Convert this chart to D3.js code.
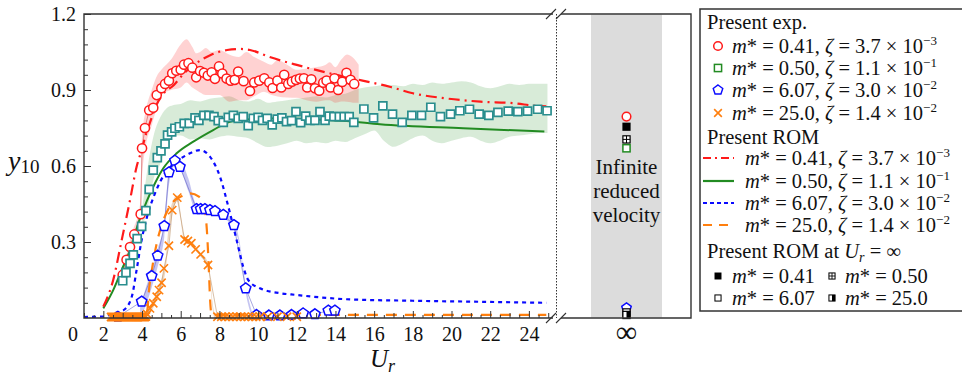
<!DOCTYPE html>
<html><head><meta charset="utf-8">
<script src="https://cdn.jsdelivr.net/npm/d3@7"></script>
<style>body{margin:0;background:#fff}svg{display:block}svg text{font-family:"Liberation Serif","Times New Roman",Times,serif}</style>
</head><body>
<svg id="chart" width="962" height="378"></svg>
<script>
// ---------------- DATA ----------------
const xTicks = [2,4,6,8,10,12,14,16,18,20,22,24];
const yTicks = [0.3,0.6,0.9,1.2];

// Experiment m*=0.41
const exp041U = [3.0,3.2,3.38,3.6,3.93,4.0,4.15,4.37,4.58,4.76,5.0,5.19,5.39,5.56,5.77,6.0,6.17,6.4,6.6,6.8,7.0,7.2,7.4,7.6,7.77,7.98,8.15,8.37,8.58,8.79,8.97,9.25,9.58,9.8,10.06,10.32,10.58,10.75,11.0,11.2,11.35,11.56,11.75,11.96,12.16,12.37,12.54,12.75,12.94,13.16,13.37,13.54,13.75,13.95,14.14,14.35,14.57,14.78,14.97];
const exp041Y = [0.17,0.23,0.28,0.33,0.41,0.67,0.75,0.82,0.83,0.88,0.907,0.924,0.937,0.966,0.976,0.98,1.0,1.006,0.988,0.95,0.975,0.968,0.957,0.97,0.944,0.993,0.965,0.945,0.937,0.94,0.973,0.935,0.896,0.93,0.937,0.946,0.93,0.908,0.937,0.91,0.96,0.924,0.933,0.94,0.945,0.946,0.91,0.942,0.907,0.897,0.929,0.937,0.91,0.946,0.9,0.932,0.968,0.94,0.924];
const band041U  = [3.0,3.5,3.9,4.0,4.2,4.5,4.8,5.0,5.5,6.0,6.3,6.6,6.8,7.0,7.3,7.6,8.0,8.5,9.0,9.4,9.8,10.3,10.7,11.0,11.5,12.0,12.5,13.0,13.5,13.7,14.0,14.3,14.6,15.0,15.2];
const band041Hi = [0.19,0.34,0.45,0.72,0.82,0.9,0.96,0.98,1.02,1.08,1.1,1.07,1.045,1.05,1.066,1.05,1.058,1.04,1.03,1.05,1.03,1.012,1.0,1.018,1.0,0.98,0.985,0.99,1.0,1.01,0.99,1.02,1.04,1.02,1.0];
const band041Lo = [0.15,0.27,0.37,0.55,0.68,0.76,0.84,0.88,0.9,0.91,0.93,0.91,0.9,0.89,0.88,0.88,0.88,0.854,0.86,0.86,0.875,0.893,0.88,0.874,0.87,0.869,0.86,0.854,0.86,0.86,0.85,0.855,0.854,0.85,0.85];

// Experiment m*=0.50
const exp050U = [3.0,3.17,3.38,3.55,3.75,3.98,4.2,4.37,4.58,4.79,4.98,5.19,5.32,5.53,5.7,5.93,6.18,6.44,6.74,6.94,7.2,7.46,7.72,7.94,8.2,8.46,8.72,8.97,9.23,9.49,9.75,10.0,10.23,10.47,10.73,10.99,11.23,11.47,11.73,11.96,12.2,12.46,12.68,12.94,13.2,13.46,13.68,13.92,14.2,14.45,14.71,14.95,15.47,15.97,16.45,16.95,17.45,17.95,18.45,18.93,19.43,19.95,20.43,20.93,21.43,21.93,22.4,22.93,23.43,23.93,24.45,24.94];
const exp050Y = [0.147,0.179,0.216,0.249,0.313,0.362,0.424,0.508,0.584,0.633,0.66,0.687,0.722,0.735,0.749,0.755,0.768,0.768,0.79,0.78,0.8,0.8,0.795,0.779,0.772,0.792,0.8,0.788,0.795,0.759,0.788,0.792,0.78,0.788,0.762,0.785,0.79,0.775,0.779,0.815,0.771,0.797,0.78,0.78,0.815,0.78,0.797,0.795,0.795,0.795,0.795,0.772,0.825,0.79,0.837,0.805,0.772,0.8,0.8,0.832,0.795,0.805,0.818,0.824,0.805,0.8,0.812,0.817,0.815,0.817,0.824,0.818];
const band050U  = [4.0,4.3,4.6,5.0,5.3,5.6,6.0,6.5,7.0,7.5,8.0,8.5,9.0,9.5,10,10.5,11,11.5,12,12.5,13,13.5,14,14.5,15,15.5,16,16.5,17,17.5,18,18.5,19,19.5,20,20.5,21,21.5,22,22.5,23,23.5,24,24.5,24.96];
const band050Hi = [0.42,0.6,0.72,0.8,0.83,0.84,0.845,0.86,0.855,0.865,0.87,0.875,0.86,0.855,0.865,0.85,0.855,0.86,0.865,0.87,0.875,0.87,0.88,0.885,0.9,0.91,0.915,0.92,0.92,0.915,0.925,0.92,0.93,0.925,0.93,0.935,0.93,0.915,0.907,0.915,0.925,0.92,0.925,0.925,0.925];
const band050Lo = [0.35,0.44,0.55,0.62,0.7,0.72,0.72,0.705,0.71,0.705,0.715,0.72,0.715,0.71,0.69,0.675,0.68,0.69,0.7,0.69,0.695,0.69,0.7,0.695,0.71,0.725,0.74,0.7,0.676,0.69,0.71,0.72,0.7,0.69,0.7,0.71,0.715,0.7,0.69,0.7,0.715,0.72,0.725,0.73,0.73];

// Experiment m*=6.07
const exp607U = [2.75,3.98,4.5,4.81,5.15,5.39,5.7,5.96,6.82,7.03,7.25,7.51,7.77,8.2,8.75,9.36,9.92,10.56,11.13,11.73,12.33,12.94,13.63,13.97];
const exp607Y = [0.005,0.065,0.166,0.246,0.363,0.575,0.621,0.597,0.43,0.43,0.43,0.426,0.422,0.407,0.367,0.117,0.012,0.01,0.01,0.012,0.018,0.015,0.029,0.029];
const band607U  = [3.9,4.2,4.5,4.8,5.15,5.4,5.7,6.0,6.4,6.8,7.5,8.2,8.75,9.0,9.36,9.7];
const band607Lo = [0.0,0.05,0.12,0.2,0.32,0.53,0.6,0.58,0.5,0.42,0.415,0.395,0.35,0.3,0.1,0.0];
const band607Hi = [0.04,0.12,0.19,0.27,0.38,0.59,0.63,0.62,0.55,0.45,0.43,0.415,0.38,0.32,0.13,0.02];

// Experiment m*=25.0
const exp250U = [2.4,2.45,2.5,2.55,2.6,2.65,2.7,2.75,2.8,2.85,2.9,2.95,3.0,3.05,3.1,3.15,3.2,3.25,3.3,3.35,3.4,3.45,3.5,3.55,3.6,3.65,3.7,3.75,3.8,3.85,3.9,3.95,4.0,4.05,4.1,4.15,4.2,4.27,4.41,4.58,4.76,4.88,5.01,5.13,5.39,5.56,5.82,6.2,6.37,6.55,6.77,7.03,7.41,7.9,8.1,8.3,8.5,8.7,8.9,9.1,9.3,9.5,9.7,9.9,10.1,10.5,11.0,11.5,12.0];
const exp250Y = [0.004,0.004,0.004,0.004,0.004,0.004,0.004,0.004,0.004,0.004,0.004,0.004,0.004,0.004,0.004,0.004,0.004,0.004,0.004,0.004,0.004,0.004,0.004,0.004,0.004,0.004,0.004,0.004,0.004,0.004,0.004,0.004,0.004,0.004,0.004,0.004,0.006,0.015,0.038,0.058,0.084,0.11,0.139,0.196,0.285,0.426,0.475,0.31,0.304,0.295,0.271,0.251,0.209,0.005,0.005,0.005,0.005,0.005,0.005,0.005,0.005,0.005,0.005,0.005,0.005,0.005,0.005,0.005,0.005];
const band250U  = [4.2,4.5,4.9,5.2,5.5,5.82,6.2,6.6,7.0,7.4,7.75,8.0];
const band250Lo = [0.0,0.03,0.1,0.18,0.38,0.46,0.3,0.285,0.245,0.2,0.0,0.0];
const band250Hi = [0.02,0.06,0.13,0.22,0.44,0.485,0.32,0.3,0.26,0.22,0.02,0.01];

// ROM curves
const rom041U = [2.0,2.51,2.95,3.38,3.72,3.98,4.19,4.45,4.7,5.05,5.65,6.17,6.68,7.55,8.4,9.1,9.58,10.6,12.0,13.7,15.4,16.8,18.0,19.7,21.5,23.2,24.4,24.9];
const rom041Y = [0.045,0.15,0.308,0.466,0.597,0.663,0.722,0.78,0.834,0.88,0.92,0.966,0.999,1.038,1.058,1.062,1.058,1.03,0.999,0.966,0.937,0.913,0.887,0.867,0.854,0.848,0.837,0.835];
const rom050U = [2.0,2.51,2.95,3.38,3.81,4.24,4.67,5.1,5.79,6.65,7.68,8.54,9.4,11.1,12.85,14.58,16.3,20.6,24.8];
const rom050Y = [0.038,0.11,0.19,0.268,0.374,0.46,0.532,0.591,0.65,0.696,0.742,0.775,0.784,0.788,0.784,0.778,0.765,0.749,0.736];
const rom607U = [1.0,2.0,2.51,3.03,3.47,3.72,3.98,4.24,4.67,5.19,5.79,6.48,7.0,7.51,8.03,8.46,8.89,9.23,9.49,10.1,11.13,11.99,12.85,14.58,18.0,21.5,24.9];
const rom607Y = [0.004,0.006,0.018,0.03,0.084,0.19,0.308,0.394,0.492,0.571,0.617,0.65,0.663,0.637,0.558,0.44,0.308,0.203,0.15,0.117,0.098,0.091,0.084,0.074,0.068,0.064,0.06];
const rom250U = [2.4,4.1,4.27,4.36,4.53,4.76,5.05,5.48,6.0,6.5,6.94,7.2,7.35,7.45,7.52,7.6,8.0,24.9];
const rom250Y = [0.008,0.01,0.03,0.11,0.2,0.295,0.374,0.446,0.479,0.492,0.479,0.44,0.35,0.2,0.07,0.012,0.012,0.012];

// Values at infinite reduced velocity
const infExpY = [0.795, 0.67, 0.04, 0.018];   // m* = 0.41, 0.50, 6.07, 25.0
const infRomY = [0.755, 0.705, 0.022, 0.012]; // m* = 0.41, 0.50, 6.07, 25.0
const infLabel = ["∞"];

// legend labels
const seriesM = ["0.41","0.50","6.07","25.0"];
const seriesZeta = ["3.7","1.1","3.0","1.4"];
const seriesExp = ["−3","−1","−2","−2"];

// ---------------- DRAW ----------------
const FONT = '"Liberation Serif","Times New Roman",Times,serif';
const svg = d3.select("#chart").style("font-family", FONT);
const x = d3.scaleLinear().domain([1, 25.35]).range([84, 555]);
const y = d3.scaleLinear().domain([0, 1.2]).range([318, 14]);
const xi = d3.scalePoint().domain(infLabel).range([591, 662]).padding(0.5);
const AX = "#333";

const C = {r:"#ff1a1a", teal:"#2a8e8e", g:"#228b22", b:"#0a0aff", o:"#ff7f0e"};

// gray band of the infinity panel
svg.append("rect").attr("x",591).attr("y",14.5).attr("width",71).attr("height",303).attr("fill","#dcdcdc");

// bands
function band(U, lo, hi, fill, op){
  const data = d3.zip(U, lo, hi);
  const area = d3.area().x(d=>x(d[0])).y0(d=>y(d[1])).y1(d=>y(d[2])).curve(d3.curveMonotoneX);
  svg.append("path").datum(data).attr("d", area).attr("fill", fill).attr("fill-opacity", op);
}
band(band050U, band050Lo, band050Hi, "#3a9a3a", 0.2);
band(band041U, band041Lo, band041Hi, "#ff2020", 0.2);
band(band607U, band607Lo, band607Hi, "#4040d0", 0.3);
band(band250U, band250Lo, band250Hi, "#c88a4a", 0.35);

// thin connection lines through experimental points
function thin(U, V, col, op){
  const line = d3.line().x(d=>x(d[0])).y(d=>y(d[1]));
  svg.append("path").datum(d3.zip(U,V)).attr("d", line).attr("fill","none")
    .attr("stroke", col).attr("stroke-opacity", op).attr("stroke-width", 1);
}
thin(exp041U.slice(0,8), exp041Y.slice(0,8), "#c04040", 0.5);
thin(exp607U, exp607Y, "#5050c0", 0.5);
thin(exp250U, exp250Y, "#b08050", 0.5);

// ROM lines
function romLine(U, V, col, dash, w){
  const line = d3.line().x(d=>x(d[0])).y(d=>y(d[1])).curve(d3.curveMonotoneX);
  svg.append("path").datum(d3.zip(U,V)).attr("d", line).attr("fill","none")
    .attr("stroke", col).attr("stroke-width", w).attr("stroke-dasharray", dash);
}
romLine(rom050U, rom050Y, C.g, null, 2);
romLine(rom041U, rom041Y, C.r, "11,5,2,5", 2.2);
romLine(rom607U, rom607Y, C.b, "4,4", 2.2);
romLine(rom250U, rom250Y, C.o, "11,8", 2.2);

// markers
const symPentagon = { draw(ctx, size){
  const r = Math.sqrt(size / 2.3776);
  for (let i=0;i<5;i++){ const a = -Math.PI/2 + i*2*Math.PI/5;
    const px = r*Math.cos(a), py = r*Math.sin(a);
    if (i===0) ctx.moveTo(px,py); else ctx.lineTo(px,py); }
  ctx.closePath(); } };

function markers(U, V, type, size, col, fill, w){
  svg.append("g").selectAll("path").data(d3.zip(U,V)).join("path")
    .attr("transform", d=>`translate(${x(d[0])},${y(d[1])})`)
    .attr("d", d3.symbol().type(type).size(size))
    .attr("fill", fill).attr("stroke", col).attr("stroke-width", w);
}
markers(exp041U, exp041Y, d3.symbolCircle, 66, C.r, "#fff", 1.5);
markers(exp050U, exp050Y, d3.symbolSquare, 64, C.teal, "#fff", 1.7);
markers(exp607U, exp607Y, symPentagon, 70, C.b, "#fff", 1.5);
markers(exp250U, exp250Y, d3.symbolTimes, 46, C.o, "none", 1.6);

// infinity panel markers
const infX = xi("∞");
function infMark(v, kind){
  const g = svg.append("g").attr("transform", `translate(${infX},${y(v)})`);
  drawKey(g, kind);
}
function drawKey(g, kind){
  const s = 3.6;
  if (kind==="circle") g.append("circle").attr("r",4.3).attr("fill","#fff").attr("stroke",C.r).attr("stroke-width",1.5);
  else if (kind==="gsq") g.append("rect").attr("x",-s).attr("y",-s).attr("width",2*s).attr("height",2*s).attr("fill","#fff").attr("stroke",C.g).attr("stroke-width",1.5);
  else if (kind==="pent") g.append("path").attr("d", d3.symbol().type(symPentagon).size(60)).attr("fill","#fff").attr("stroke",C.b).attr("stroke-width",1.4);
  else if (kind==="x") g.append("path").attr("d", d3.symbol().type(d3.symbolTimes).size(40)).attr("stroke",C.o).attr("stroke-width",1.6);
  else if (kind==="filled") g.append("rect").attr("x",-s-0.5).attr("y",-s-0.5).attr("width",2*s+1).attr("height",2*s+1).attr("fill","#000");
  else if (kind==="grid"){ g.append("rect").attr("x",-s).attr("y",-s).attr("width",2*s).attr("height",2*s).attr("fill","#fff").attr("stroke","#000").attr("stroke-width",1.2);
    g.append("path").attr("d",`M0,${-s}V${s}M${-s},0H${s}`).attr("stroke","#000").attr("stroke-width",1); }
  else if (kind==="open") g.append("rect").attr("x",-s).attr("y",-s).attr("width",2*s).attr("height",2*s).attr("fill","#fff").attr("stroke","#000").attr("stroke-width",1.2);
  else if (kind==="half"){ g.append("rect").attr("x",-s).attr("y",-s).attr("width",2*s).attr("height",2*s).attr("fill","#fff").attr("stroke","#000").attr("stroke-width",1.2);
    g.append("rect").attr("x",0).attr("y",-s).attr("width",s).attr("height",2*s).attr("fill","#000"); }
}
infMark(infExpY[2], "pent");
infMark(infExpY[3], "x");
infMark(infRomY[2], "open");
infMark(infRomY[3], "half");
infMark(infExpY[0], "circle");
infMark(infRomY[0], "filled");
infMark(infRomY[1], "grid");
infMark(infExpY[1], "gsq");

// infinite text
const it = svg.append("text").attr("text-anchor","middle").attr("font-size",21).attr("fill","#111");
[["Infinite",174],["reduced",198],["velocity",222]].forEach(([t,yy])=>it.append("tspan").attr("x",infX).attr("y",yy).text(t));

// ---- axes ----
const gx = svg.append("g").attr("transform","translate(0,318)");
gx.call(d3.axisBottom(x).tickValues(d3.range(1.5, 25.1, 1)).tickSize(-3).tickFormat(""));
gx.append("g").call(d3.axisBottom(x).tickValues(d3.range(1, 25.1, 2)).tickSize(-5).tickFormat(""));
gx.append("g").call(d3.axisBottom(x).tickValues(xTicks).tickSize(-7).tickFormat(d3.format("d")));
gx.selectAll(".domain").remove();
gx.selectAll("g").attr("font-family", FONT);
gx.selectAll("line").attr("stroke",AX).attr("stroke-width",1);
gx.selectAll("text").attr("y",23).attr("dy",0).attr("font-size",20).style("font-family",FONT).attr("fill","#111");

const gy = svg.append("g").attr("transform","translate(84,0)");
gy.call(d3.axisLeft(y).tickValues(d3.range(0.06,1.15,0.06)).tickSize(-4).tickFormat(""));
gy.append("g").call(d3.axisLeft(y).tickValues(yTicks).tickSize(-7).tickPadding(8).tickFormat(d3.format(".1f")));
gy.selectAll(".domain").remove();
gy.selectAll("g").attr("font-family", FONT);
gy.selectAll("line").attr("stroke",AX).attr("stroke-width",1);
gy.selectAll("text").attr("font-size",20).style("font-family",FONT).attr("fill","#111").attr("dy","0.33em");

svg.append("text").attr("x",73).attr("y",341).attr("text-anchor","middle").attr("font-size",20).attr("fill","#111").text("0");

// frame lines
const frame = svg.append("g").attr("stroke",AX).attr("stroke-width",1.4).attr("fill","none");
frame.append("path").attr("d","M553,14H84V318H553");
frame.append("path").attr("d","M561,14H691V318H561");
frame.append("path").attr("d","M546,19L556,9M556,19L566,9M546,323L556,313M556,323L566,313").attr("stroke-width",1.1);
svg.append("line").attr("x1",556.5).attr("x2",556.5).attr("y1",14).attr("y2",318)
  .attr("stroke","#333").attr("stroke-width",1).attr("stroke-dasharray","1.5,1.5");

// infinity label
svg.append("text").attr("x",infX).attr("y",342).attr("text-anchor","middle").attr("font-size",30).attr("fill","#111").text("∞");

// axis titles
const yl = svg.append("text").attr("x",8).attr("y",170).attr("fill","#111");
yl.append("tspan").attr("font-size",28).attr("font-style","italic").text("y");
yl.append("tspan").attr("font-size",19).attr("dy",3).text("10");
const xl = svg.append("text").attr("x",370).attr("y",367).attr("fill","#111");
xl.append("tspan").attr("font-size",25).attr("font-style","italic").text("U");
xl.append("tspan").attr("font-size",18).attr("font-style","italic").attr("dy",5).text("r");

// ---- legend ----
const L = svg.append("g").attr("font-size",20.5).attr("fill","#111");
L.append("rect").attr("x",700).attr("y",9).attr("width",265).attr("height",302).attr("fill","#fff").attr("stroke",AX).attr("stroke-width",1.5);
const rowsY = [29,53,75,97,120,144,165,188,210,232,258,283,305];

L.append("text").attr("x",707).attr("y",rowsY[0]).text("Present exp.");
L.append("text").attr("x",707).attr("y",rowsY[5]).text("Present ROM");
const h3 = L.append("text").attr("x",707).attr("y",rowsY[10]);
h3.append("tspan").text("Present ROM at ");
h3.append("tspan").attr("font-style","italic").text("U");
h3.append("tspan").attr("font-style","italic").attr("font-size",14).attr("dy",4).text("r");
h3.append("tspan").attr("dy",-4).text(" = ∞");

function richLabel(xx, yy, i){
  const t = L.append("text").attr("x",xx).attr("y",yy);
  t.append("tspan").attr("font-style","italic").text("m");
  t.append("tspan").text(`* = ${seriesM[i]}, `);
  t.append("tspan").attr("font-style","italic").text("ζ");
  t.append("tspan").text(` = ${seriesZeta[i]} × 10`);
  t.append("tspan").attr("font-size",13).attr("dy",-8).text(seriesExp[i]);
}
const expKinds = ["circle","gsq","pent","x"];
for (let i=0;i<4;i++){
  const g = L.append("g").attr("transform",`translate(718,${rowsY[1+i]-7})`);
  drawKey(g, expKinds[i]);
  richLabel(732, rowsY[1+i], i);
}
const romStyle = [[C.r,"8,4,2,4"],[C.g,null],[C.b,"4,3"],[C.o,"9,7"]];
for (let i=0;i<4;i++){
  L.append("line").attr("x1",703).attr("x2",734).attr("y1",rowsY[6+i]-7).attr("y2",rowsY[6+i]-7)
    .attr("stroke",romStyle[i][0]).attr("stroke-width",2.2).attr("stroke-dasharray",romStyle[i][1]);
  richLabel(745, rowsY[6+i], i);
}
const infKinds = ["filled","grid","open","half"];
for (let i=0;i<4;i++){
  const col = i%2, row = Math.floor(i/2);
  const mx = col===0 ? 718 : 832, tx = col===0 ? 732 : 845;
  const yy = rowsY[11+row];
  const g = L.append("g").attr("transform",`translate(${mx},${yy-7}) scale(0.85)`);
  drawKey(g, infKinds[i]);
  const t = L.append("text").attr("x",tx).attr("y",yy);
  t.append("tspan").attr("font-style","italic").text("m");
  t.append("tspan").text(`* = ${seriesM[i]}`);
}
</script>
</body></html>
